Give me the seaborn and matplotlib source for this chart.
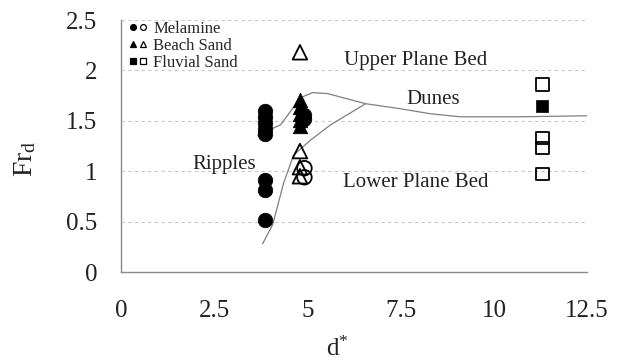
import matplotlib
matplotlib.use("Agg")
import matplotlib.pyplot as plt
import seaborn as sns
import pandas as pd
from matplotlib.lines import Line2D
from matplotlib.legend_handler import HandlerTuple

# Bedform observations: dimensionless grain size d* vs densimetric Froude number Fr_d
mel_filled_d = [3.85, 3.85, 3.85, 3.85, 3.85, 3.85, 3.85, 3.85, 4.92, 4.92]
mel_filled_fr = [1.60, 1.54, 1.48, 1.42, 1.37, 0.91, 0.81, 0.52, 1.56, 1.52]
mel_open_d = [4.92, 4.92]
mel_open_fr = [1.03, 0.94]

beach_filled_d = [4.8, 4.8, 4.8, 4.8, 4.8]
beach_filled_fr = [1.71, 1.64, 1.57, 1.51, 1.45]
beach_open_d = [4.8, 4.8, 4.8, 4.8]
beach_open_fr = [2.18, 1.20, 1.04, 0.95]

fluv_filled_d = [11.3]
fluv_filled_fr = [1.65]
fluv_open_d = [11.3, 11.3, 11.3, 11.3]
fluv_open_fr = [1.86, 1.33, 1.23, 0.97]

# Regime boundaries
upper_d = [3.67, 4.28, 4.82, 5.14, 5.54, 6.56, 7.49, 8.3, 9.1, 10.7, 12.5]
upper_fr = [1.36, 1.46, 1.73, 1.78, 1.77, 1.67, 1.62, 1.57, 1.54, 1.54, 1.55]
lower_d = [3.8, 4.07, 4.36, 4.63, 5.09, 5.62, 6.56]
lower_fr = [0.28, 0.47, 0.88, 1.16, 1.31, 1.46, 1.67]

regions = ["Upper Plane Bed", "Dunes", "Ripples", "Lower Plane Bed"]
region_d = [7.9, 8.38, 2.78, 7.9]
region_fr = [2.1, 1.71, 1.07, 0.89]

x_ticks = [0, 2.5, 5, 7.5, 10, 12.5]
x_labels = ["0", "2.5", "5", "7.5", "10", "12.5"]
y_ticks = [0, 0.5, 1, 1.5, 2, 2.5]
y_labels = ["0", "0.5", "1", "1.5", "2", "2.5"]

sns.set_theme(style="white")
plt.rcParams["font.family"] = ["Liberation Serif", "DejaVu Serif"]
plt.rcParams["mathtext.fontset"] = "custom"
plt.rcParams["mathtext.rm"] = "Liberation Serif"
plt.rcParams["mathtext.it"] = "Liberation Serif"

fig = plt.figure(figsize=(6.2, 3.61), dpi=100)
ax = fig.add_axes([0.195, 0.2465, 0.752, 0.698])

for ref in y_ticks[1:]:
    ax.axhline(ref, color="#c8c8c8", lw=0.8, ls=(0, (3, 3)), zorder=0)

line_col = "#7f7f7f"
sns.lineplot(x=upper_d, y=upper_fr, sort=False, color=line_col, lw=0.9, ax=ax, zorder=1)
sns.lineplot(x=lower_d, y=lower_fr, sort=False, color=line_col, lw=0.9, ax=ax, zorder=1)

def pts(d, fr, marker, size, filled):
    df = pd.DataFrame({"d": d, "fr": fr})
    if filled:
        sns.scatterplot(data=df, x="d", y="fr", marker=marker, s=size,
                        color="black", edgecolor="black", linewidth=0.5, ax=ax, zorder=3)
    else:
        sns.scatterplot(data=df, x="d", y="fr", marker=marker, s=size,
                        facecolor="none", edgecolor="black", linewidth=1.3, ax=ax, zorder=3)

pts(mel_filled_d, mel_filled_fr, "o", 110, True)
pts(mel_open_d, mel_open_fr, "o", 110, False)
pts(beach_filled_d, beach_filled_fr, "^", 110, True)
pts(beach_open_d, beach_open_fr, "^", 110, False)
pts(fluv_filled_d, fluv_filled_fr, "s", 80, True)
pts(fluv_open_d, fluv_open_fr, "s", 80, False)

for name, dx, fy in zip(regions, region_d, region_fr):
    ax.text(dx, fy, name, ha="center", va="center", fontsize=15, color="#222222")

ax.set_xlim(0, 12.5)
ax.set_ylim(0, 2.5)
ax.set_xticks(x_ticks, x_labels)
ax.set_yticks(y_ticks, y_labels)
ax.tick_params(axis="both", length=0, labelsize=18, colors="#222222")
ax.tick_params(axis="x", pad=20)
ax.tick_params(axis="y", pad=17)
for side in ["top", "right"]:
    ax.spines[side].set_visible(False)
for side in ["left", "bottom"]:
    ax.spines[side].set_color("#8a8a8a")
    ax.spines[side].set_linewidth(1.0)

ax.set_xlabel("d$^{*}$", fontsize=18, color="#222222")
ax.set_ylabel("Fr$_{\\mathrm{d}}$", fontsize=20, color="#222222")
ax.xaxis.set_label_coords(0.465, -0.255)
ax.yaxis.set_label_coords(-0.178, 0.45)

def mk(marker, filled):
    return Line2D([], [], ls="none", marker=marker, markersize=4.2,
                  markerfacecolor="black" if filled else "none",
                  markeredgecolor="black", markeredgewidth=0.9)

handles = [(mk("o", True), mk("o", False)),
           (mk("^", True), mk("^", False)),
           (mk("s", True), mk("s", False))]
ax.legend(handles, ["Melamine", "Beach Sand", "Fluvial Sand"],
          handler_map={tuple: HandlerTuple(ndivide=None, pad=0.0)},
          loc="upper left", bbox_to_anchor=(0.207, 0.942), bbox_transform=fig.transFigure,
          frameon=False, fontsize=12, handlelength=1.2, handletextpad=0.3,
          labelspacing=0.05, borderpad=0, borderaxespad=0)

fig.savefig("out.png", dpi=100)
